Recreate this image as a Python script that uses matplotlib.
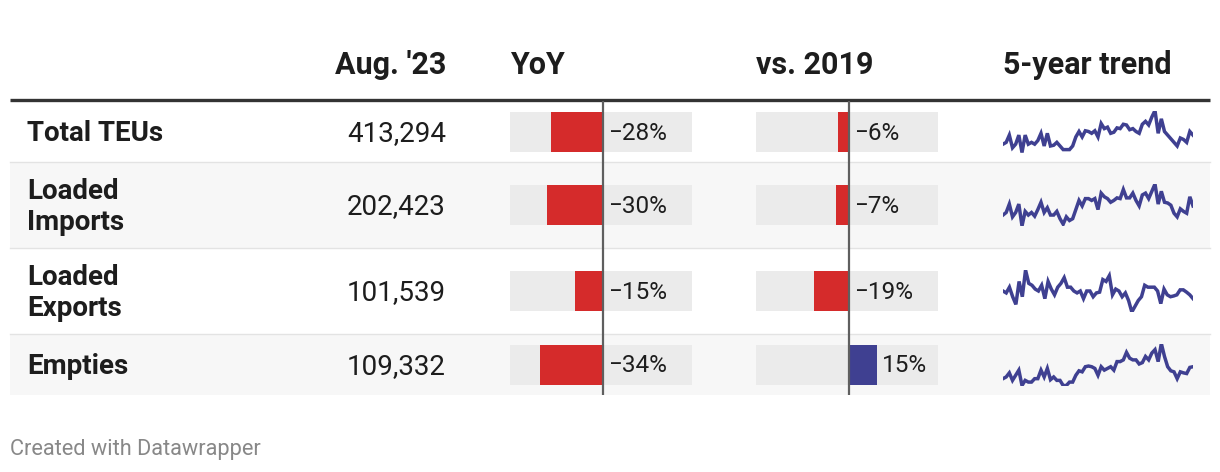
import matplotlib
matplotlib.use("Agg")
import matplotlib.pyplot as plt
from matplotlib.patches import Rectangle

plt.rcParams['font.family'] = ['Roboto', 'DejaVu Sans']

# --- données ---
rows = ['Total TEUs', 'Loaded\nImports', 'Loaded\nExports', 'Empties']
aug23 = [413294, 202423, 101539, 109332]
yoy = [-28, -30, -15, -34]
vs2019 = [-6, -7, -19, 15]
headers = ["Aug. '23", 'YoY', 'vs. 2019', '5-year trend']

trend_total = [35, 40, 60, 25, 35, 60, 12, 60, 35, 40, 35, 45, 65, 30, 65, 30, 32, 40, 30, 20,
               20, 20, 30, 55, 70, 55, 72, 70, 65, 72, 55, 92, 78, 82, 65, 68, 80, 78, 90, 88,
               75, 78, 70, 65, 90, 98, 88, 110, 128, 65, 105, 70, 60, 50, 40, 30, 52, 48, 40, 70, 60]
trend_imports = [35, 42, 65, 30, 42, 65, 5, 45, 35, 42, 32, 50, 70, 42, 55, 35, 35, 45, 25, 10,
                 30, 20, 25, 50, 75, 60, 80, 80, 75, 80, 50, 95, 85, 80, 70, 75, 82, 80, 105, 82,
                 82, 95, 75, 60, 90, 95, 80, 100, 120, 65, 100, 70, 68, 62, 40, 30, 52, 45, 40, 85, 60]
trend_exports = [75, 70, 85, 60, 40, 100, 60, 130, 95, 90, 80, 75, 90, 55, 100, 80, 65, 85, 95, 110,
                 85, 85, 75, 70, 75, 55, 75, 75, 60, 70, 72, 105, 100, 115, 65, 80, 75, 60, 70, 50,
                 20, 35, 50, 60, 90, 85, 85, 85, 75, 42, 80, 65, 60, 62, 65, 78, 78, 72, 65, 55]
trend_empties = [35, 40, 52, 30, 45, 60, 15, 30, 25, 25, 35, 35, 60, 40, 65, 32, 40, 30, 30, 15,
                 15, 25, 25, 45, 58, 55, 70, 72, 70, 65, 45, 70, 60, 65, 70, 60, 85, 85, 90, 112,
                 95, 90, 90, 78, 82, 100, 90, 110, 120, 85, 138, 100, 70, 58, 55, 35, 55, 52, 50, 68, 70]
trends = [trend_total, trend_imports, trend_exports, trend_empties]

# --- style ---
RED = '#d52b2b'
BLUE = '#3f4091'
TXT = '#1d1d1d'
BAR_BG = '#ebebeb'
ROW_ALT = '#f7f7f7'
W, H = 1220, 472

fig = plt.figure(figsize=(W / 100, H / 100), dpi=100)
fig.patch.set_facecolor('white')

def fax(x0, y0, x1, y1):
    # axes positionné en pixels (origine en haut à gauche)
    return fig.add_axes([x0 / W, 1 - y1 / H, (x1 - x0) / W, (y1 - y0) / H])

bg = fax(0, 0, W, H)
bg.set_xlim(0, W)
bg.set_ylim(H, 0)
bg.axis('off')

# géométrie des lignes
table_top = 101
heights = [86 if '\n' in r else 61 for r in rows]
tops = []
y = table_top
for h in heights:
    tops.append(y)
    y += h
table_bottom = y
centers = [t + h / 2 for t, h in zip(tops, heights)]

for i, (t, h) in enumerate(zip(tops, heights)):
    bg.add_patch(Rectangle((10, t), 1200, h, facecolor=ROW_ALT if i % 2 else 'white',
                           edgecolor='none', zorder=0))
    if i > 0:
        bg.plot([10, 1210], [t, t], color='#e3e3e3', lw=1, zorder=1)
bg.plot([10, 1210], [99.5, 99.5], color='#333333', lw=2.4, zorder=2, solid_capstyle='butt')

# en-têtes
hy = 64.5
bg.text(446, hy, headers[0], ha='right', va='center', fontsize=22, fontweight='bold', color=TXT)
bg.text(510, hy, headers[1], ha='left', va='center', fontsize=22, fontweight='bold', color=TXT)
bg.text(756, hy, headers[2], ha='left', va='center', fontsize=22, fontweight='bold', color=TXT)
bg.text(1003, hy, headers[3], ha='left', va='center', fontsize=22, fontweight='bold', color=TXT)

for lab, val, c in zip(rows, aug23, centers):
    bg.text(27, c + 2, lab, ha='left', va='center', fontsize=20, fontweight='bold', color=TXT,
            linespacing=1.15)
    bg.text(446, c + 2, f'{val:,}', ha='right', va='center', fontsize=20, color=TXT)

# colonnes en barres
def bar_column(x0, x1, values):
    ax = fax(x0, table_top, x1, table_bottom)
    ax.set_xlim(-50, 48)
    ax.set_ylim(table_bottom, table_top)
    ax.axis('off')
    ax.patch.set_alpha(0)
    ax.barh(centers, [98] * len(values), left=-50, height=40, color=BAR_BG, zorder=1)
    ax.barh(centers, values, height=40, color=[RED if v < 0 else BLUE for v in values], zorder=2)
    ax.axvline(0, color='#5f5f5f', lw=1.6, zorder=3)
    for v, c in zip(values, centers):
        s = f'{v}%'.replace('-', '\u2212')
        ax.annotate(s, (max(v, 0), c + 1.5), xytext=(4, 0), textcoords='offset points',
                    ha='left', va='center', fontsize=17.5, color=TXT, zorder=4)
    return ax

bar_column(510, 692, yoy)
bar_column(756, 938, vs2019)

# sparklines
for serie, c in zip(trends, centers):
    ax = fax(1003, c - 21, 1193, c + 21)
    ax.axis('off')
    ax.patch.set_alpha(0)
    ax.plot(range(len(serie)), serie, color=BLUE, lw=2.5, solid_joinstyle='miter')
    ax.set_xlim(0, len(serie) - 1)
    ax.set_ylim(min(serie), max(serie))

bg.text(10, 449, 'Created with Datawrapper', ha='left', va='center', fontsize=15.7, color='#888888')

fig.savefig('out.png', dpi=100)
